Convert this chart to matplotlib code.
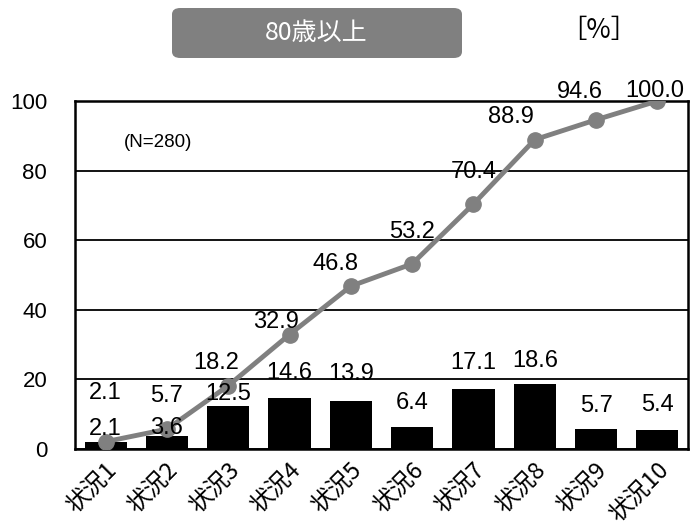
import matplotlib.pyplot as plt
from matplotlib.patches import FancyBboxPatch

plt.rcParams['font.family'] = ['Liberation Sans', 'Noto Sans CJK JP', 'DejaVu Sans']

# data
categories = ['状況1', '状況2', '状況3', '状況4', '状況5',
              '状況6', '状況7', '状況8', '状況9', '状況10']
share = [2.1, 3.6, 12.5, 14.6, 13.9, 6.4, 17.1, 18.6, 5.7, 5.4]
cumulative = [2.1, 5.7, 18.2, 32.9, 46.8, 53.2, 70.4, 88.9, 94.6, 100.0]
title = '80歳以上'
note = '(N=280)'

# label offsets in points (hand-tuned like the original)
bar_off = [(0, 9), (0, 6), (0, 8), (0, 18), (0, 19), (0, 17), (0, 19), (0, 17), (0, 17), (0, 18)]
line_off = [(0, 35), (0, 24), (-9, 16), (-10, 9), (-11, 16), (0, 23), (0, 23), (-17, 16), (-12, 20), (-2, 7)]

fig = plt.figure(figsize=(6.92, 5.28), dpi=100)
ax = fig.add_axes([75 / 692, 1 - 449 / 528, 613 / 692, 348 / 528])

x = list(range(len(categories)))
ax.bar(x, share, width=0.69, color='black', zorder=2)
ax.plot(x, cumulative, color='#808080', lw=3.5, marker='o', ms=11, zorder=3)

for i, v in enumerate(share):
    ax.annotate(f'{v:.1f}', (i, v), xytext=bar_off[i], textcoords='offset points',
                ha='center', va='center', fontsize=17, zorder=4)
for i, v in enumerate(cumulative):
    ax.annotate(f'{v:.1f}', (i, v), xytext=line_off[i], textcoords='offset points',
                ha='center', va='center', fontsize=17, zorder=4)

ax.set_xlim(-0.5, len(categories) - 0.5)
ax.set_ylim(0, 100)
ax.set_yticks([0, 20, 40, 60, 80, 100])
ax.tick_params(axis='y', length=0, pad=20, labelsize=16)
ax.tick_params(axis='x', length=0, pad=7)
ax.set_xticks(x)
ax.set_xticklabels(categories, rotation=45, ha='right', rotation_mode='anchor',
                   fontsize=17, family=['Noto Sans CJK JP', 'DejaVu Sans'])
ax.yaxis.grid(True, color='black', lw=1.3, zorder=0)
ax.set_axisbelow(True)
for s in ax.spines.values():
    s.set_linewidth(1.8)

ax.text(158 / 692, 1 - 143 / 528, note, transform=fig.transFigure, fontsize=13.5,
        ha='center', va='center')

# title box
box = FancyBboxPatch((172 / 692, 1 - 58 / 528), 290 / 692, 50 / 528,
                     boxstyle='round,pad=0,rounding_size=0.012',
                     transform=fig.transFigure, facecolor='#808080', edgecolor='none')
fig.patches.append(box)
fig.text(316 / 692, 1 - 33 / 528, title, color='white', fontsize=18,
         ha='center', va='center', family=['Noto Sans CJK JP', 'DejaVu Sans'])
fig.text(599 / 692, 1 - 30 / 528, '［%］', fontsize=19, ha='center', va='center',
         family=['Noto Sans CJK JP', 'DejaVu Sans'])

fig.savefig('out.png', dpi=100)
